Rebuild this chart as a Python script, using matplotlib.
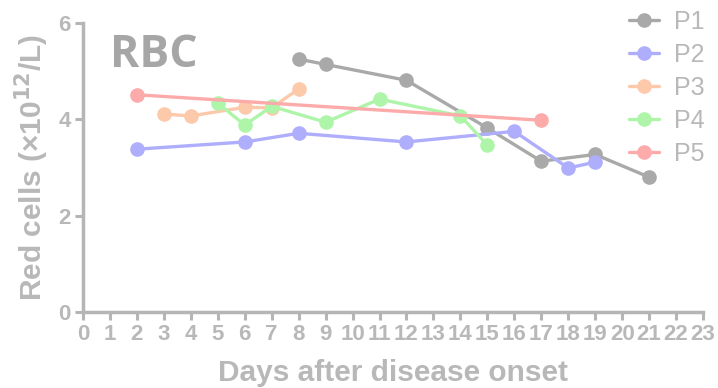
import matplotlib
matplotlib.use("Agg")
import matplotlib.pyplot as plt

p1_x = [8, 9, 12, 15, 17, 19, 21]
p1_y = [5.25, 5.14, 4.81, 3.82, 3.13, 3.27, 2.80]
p2_x = [2, 6, 8, 12, 16, 18, 19]
p2_y = [3.38, 3.53, 3.71, 3.53, 3.75, 2.99, 3.11]
p3_x = [3, 4, 6, 7, 8]
p3_y = [4.11, 4.07, 4.25, 4.24, 4.63]
p4_x = [5, 6, 7, 9, 11, 14, 15]
p4_y = [4.34, 3.88, 4.27, 3.94, 4.42, 4.07, 3.47]
p5_x = [2, 17]
p5_y = [4.51, 3.98]

series = [("P1", p1_x, p1_y, "#a9a9a9"),
          ("P2", p2_x, p2_y, "#aeaefc"),
          ("P3", p3_x, p3_y, "#fdc9ab"),
          ("P4", p4_x, p4_y, "#aef5aa"),
          ("P5", p5_x, p5_y, "#fcaaaa")]

x_ticks = list(range(0, 24))
y_ticks = [0, 2, 4, 6]

axis_col = "#b5b5b5"
text_col = "#b8b8b8"

fig = plt.figure(figsize=(7.18, 3.88), dpi=100)
ax = fig.add_axes([0.1156, 0.196, 0.8635, 0.7447])

for name, xs, ys, c in series:
    ax.plot(xs, ys, color=c, lw=2.4, marker="o", ms=9.5, label=name, solid_capstyle="round")

ax.set_xlim(0, 23)
ax.set_ylim(0, 6)
ax.set_xticks(x_ticks)
ax.set_yticks(y_ticks)
for s in ["top", "right"]:
    ax.spines[s].set_visible(False)
for s in ["left", "bottom"]:
    ax.spines[s].set_color(axis_col)
    ax.spines[s].set_linewidth(2.5)
ax.tick_params(colors=axis_col, width=2.2, length=6, direction="out", pad=3)
for lab in ax.get_xticklabels() + ax.get_yticklabels():
    lab.set_fontfamily("Liberation Sans")
    lab.set_fontweight("bold")
    lab.set_fontsize(16)
    lab.set_color(text_col)
ax.set_xlabel("Days after disease onset", fontsize=21.5, fontweight="bold",
              color=text_col, family="Liberation Sans", labelpad=10)
ax.set_ylabel(r"Red cells (×10$^{\mathbf{12}}$/L)", fontsize=21.5, fontweight="bold",
              color=text_col, family="Liberation Sans", labelpad=5)

ax.text(0.044, 0.965, "RBC", transform=ax.transAxes, fontsize=32, fontweight="bold",
        color="#a6a6a6", family="Open Sans", va="top", ha="left")

leg = ax.legend(loc="upper left", bbox_to_anchor=(0.8774, 1.054), frameon=False,
                prop={"family": "Liberation Sans", "size": 18}, handlelength=1.2,
                labelspacing=0.36, handletextpad=0.6, borderaxespad=0, borderpad=0.1)
for t in leg.get_texts():
    t.set_color("#b8b8b8")

fig.savefig("out.png", dpi=100)
